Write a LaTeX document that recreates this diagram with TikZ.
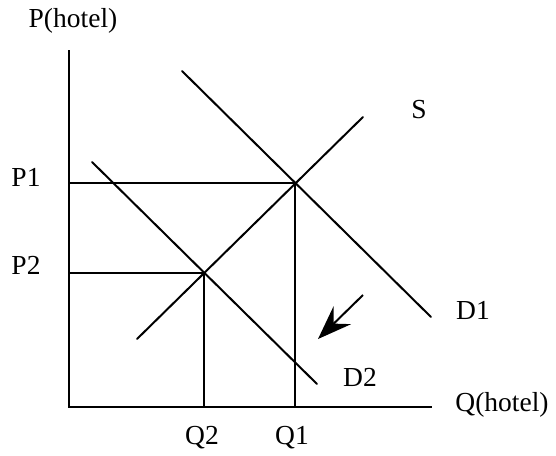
\documentclass[tikz,border=0pt]{standalone}
\usepackage{fontspec}
\setmainfont{Liberation Serif}
\usetikzlibrary{arrows.meta}

\begin{document}
\begin{tikzpicture}[x=1pt,y=-1pt,
  curve/.style={line width=2pt,line cap=round},
  guide/.style={line width=1.7pt},
  lbl/.style={inner sep=0pt,font=\fontsize{27.5}{32}\selectfont},
  shiftarr/.style={line width=2pt,-{Stealth[length=34pt,width=25pt,inset=12pt]}}]
\useasboundingbox (0,0) rectangle (556,455);
% axes
\coordinate (O)  at (69,407);
\coordinate (Pt) at (69,50);
\coordinate (Qr) at (432,407);
\node[lbl] (Plab) at (73,21)   {P(hotel)};
\node[lbl] (Qlab) at (502,405) {Q(hotel)};
\draw[guide] (Pt) -- (O) -- (Qr);
% supply and demand
\coordinate (S0)  at (137,339);  \coordinate (S1)  at (363,117);
\coordinate (D1a) at (182,71);   \coordinate (D1b) at (431,317);
\coordinate (D2a) at (92,162);   \coordinate (D2b) at (317,384);
\draw[curve] (S0) -- (S1);
\draw[curve] (D1a) -- (D1b);
\draw[curve] (D2a) -- (D2b);
\node[lbl] (Slab)  at (419,110) {S};
\node[lbl] (D1lab) at (473,310) {D1};
\node[lbl] (D2lab) at (360,377) {D2};
% equilibria
\coordinate (E1) at (295,183);
\coordinate (E2) at (204,273);
\draw[guide] (E1 -| O) -- (E1) -- (E1 |- O);
\draw[guide] (E2 -| O) -- (E2) -- (E2 |- O);
\node[lbl] (P1) at (26,177) {P1};
\node[lbl] (P2) at (26,265) {P2};
\node[lbl] (Q1) at (292,438) {Q1};
\node[lbl] (Q2) at (202,438) {Q2};
% demand shift
\coordinate (A0) at (363,295);
\coordinate (A1) at (318,339);
\draw[shiftarr] (A0) -- (A1);
\end{tikzpicture}
\end{document}
